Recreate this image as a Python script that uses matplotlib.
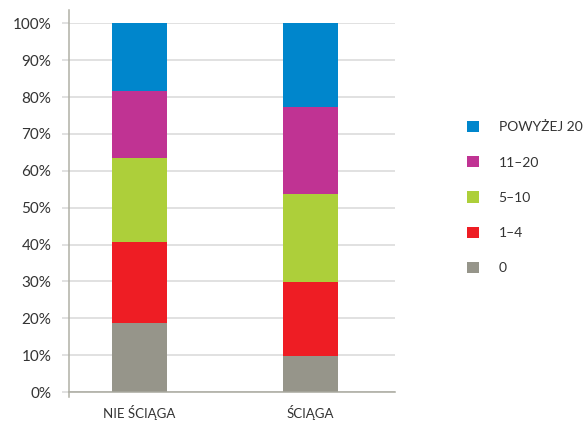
import matplotlib
matplotlib.use("Agg")
import matplotlib.pyplot as plt
from matplotlib.patches import Patch
from matplotlib.lines import Line2D
import numpy as np

plt.rcParams['font.family'] = ['Lato', 'DejaVu Sans']

categories = ["NIE ŚCIĄGA", "ŚCIĄGA"]
series_labels = ["0", "1–4", "5–10", "11–20", "POWYŻEJ 20"]
values = {
    "0": [18.7, 9.8],
    "1–4": [22.0, 20.0],
    "5–10": [22.9, 23.9],
    "11–20": [18.1, 23.6],
    "POWYŻEJ 20": [18.3, 22.7],
}
colors = {
    "0": "#96958A",
    "1–4": "#EE1D24",
    "5–10": "#ADCF3A",
    "11–20": "#C03393",
    "POWYŻEJ 20": "#0086CC",
}
yticks = list(range(0, 101, 10))
ytick_labels = [f"{t}%" for t in yticks]

W, H = 584, 421
fig = plt.figure(figsize=(W / 100, H / 100), dpi=100)
left, right = 69.3 / W, 395 / W
bottom, top = 1 - 392 / H, 1 - 23.3 / H
ax = fig.add_axes([left, bottom, right - left, top - bottom])

x = np.arange(len(categories))
base = np.zeros(len(categories))
for s in series_labels:
    v = np.array(values[s])
    ax.bar(x, v, bottom=base, width=0.32, color=colors[s], zorder=3)
    base += v

ax.set_xlim(-0.41, 1.494)
ax.set_ylim(0, 100)
ax.set_yticks(yticks)
ax.set_yticklabels(ytick_labels, fontsize=11, color="#333333")
ax.set_xticks(x)
ax.set_xticklabels(categories, fontsize=9.5, color="#333333")
ax.tick_params(axis='y', length=5, width=1.1, color="#d9d9d9", pad=8)
ax.tick_params(axis='x', length=0, pad=9)
ax.yaxis.grid(True, color="#d9d9d9", linewidth=1.1, zorder=0)
for sp in ["top", "right", "left"]:
    ax.spines[sp].set_visible(False)
ax.spines["bottom"].set_color("#a8a89e")
ax.spines["bottom"].set_linewidth(1.1)
ax.spines["bottom"].set_zorder(4)

# vertical axis line extending beyond the plot area
fig.add_artist(Line2D([left, left], [1 - 397 / H, 1 - 10 / H],
                      transform=fig.transFigure, color="#b0b0a6", linewidth=1.1))

handles = [Patch(facecolor=colors[s], edgecolor='none') for s in reversed(series_labels)]
labels = list(reversed(series_labels))
leg = fig.legend(handles, labels, loc='upper left',
                 bbox_to_anchor=(467 / W, 1 - 121 / H),
                 frameon=False, fontsize=10, handlelength=0.87, handleheight=0.87,
                 handletextpad=1.4, labelspacing=1.64, borderpad=0, borderaxespad=0,
                 labelcolor="#333333")

fig.savefig("out.png", dpi=100)
